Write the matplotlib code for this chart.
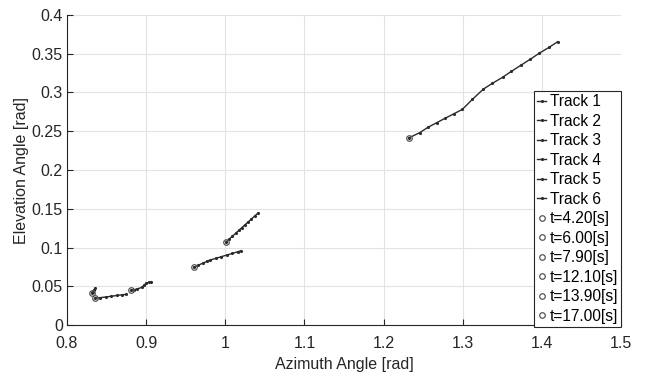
import numpy as np
import matplotlib.pyplot as plt

plt.rcParams['font.family'] = ['Liberation Sans', 'DejaVu Sans']

# track points (azimuth, elevation) [rad]
trk1_az = [0.8312, 0.8325, 0.8340, 0.8354]
trk1_el = [0.0417, 0.0432, 0.0452, 0.0473]

trk2_az = [0.8354, 0.842, 0.849, 0.856, 0.863, 0.869, 0.8747]
trk2_el = [0.0344, 0.0353, 0.0362, 0.0371, 0.0381, 0.0389, 0.0396]

trk3_az = [0.881, 0.885, 0.889, 0.8945, 0.897, 0.900, 0.903, 0.9063]
trk3_el = [0.0447, 0.0456, 0.0466, 0.0486, 0.0510, 0.0538, 0.0550, 0.0559]

trk4_az = [0.960, 0.966, 0.972, 0.977, 0.981, 0.988, 0.995, 1.002, 1.009, 1.016, 1.0203]
trk4_el = [0.0744, 0.0772, 0.0800, 0.0822, 0.0839, 0.0860, 0.0882, 0.0903, 0.0924, 0.0946, 0.0959]

trk5_az = [1.0013, 1.005, 1.009, 1.013, 1.017, 1.021, 1.025, 1.029, 1.033, 1.037, 1.0409]
trk5_el = [0.1075, 0.1109, 0.1146, 0.1183, 0.1220, 0.1257, 0.1294, 0.1331, 0.1368, 0.1405, 0.1441]

trk6_az = [1.2316, 1.2456, 1.2561, 1.2671, 1.2776, 1.2890, 1.2996, 1.3123, 1.3262, 1.3376,
           1.3503, 1.3616, 1.3734, 1.3852, 1.3966, 1.4092, 1.4199]
trk6_el = [0.2413, 0.2481, 0.2551, 0.2610, 0.2667, 0.2726, 0.2783, 0.2912, 0.3045, 0.3119,
           0.3196, 0.3274, 0.3351, 0.3428, 0.3506, 0.3583, 0.3655]

tracks = [(trk1_az, trk1_el), (trk2_az, trk2_el), (trk3_az, trk3_el),
          (trk4_az, trk4_el), (trk5_az, trk5_el), (trk6_az, trk6_el)]
times = [4.20, 6.00, 7.90, 12.10, 13.90, 17.00]

fig = plt.figure(figsize=(6.45, 3.72), dpi=100)
ax = fig.add_axes([0.1039, 0.1263, 0.8589, 0.8334])

lc = '#2b2b2b'
for i, (az, el) in enumerate(tracks):
    ax.plot(az, el, '-', color=lc, lw=1.0, marker='.', ms=2.5, label='Track %d' % (i+1))
for i, (az, el) in enumerate(tracks):
    ax.plot(az[0], el[0], 'o', mfc='none', mec='#555555', ms=4, mew=0.9,
            label='t=%.2f[s]' % times[i])

ax.set_xlim(0.8, 1.5)
ax.set_ylim(0, 0.4)
ax.set_xticks(np.arange(0.8, 1.51, 0.1))
ax.set_xticklabels(['0.8', '0.9', '1', '1.1', '1.2', '1.3', '1.4', '1.5'])
ax.set_yticks(np.arange(0, 0.41, 0.05))
ax.set_yticklabels(['0', '0.05', '0.1', '0.15', '0.2', '0.25', '0.3', '0.35', '0.4'])
ax.grid(True, color='#e3e3e3', lw=0.8)
ax.set_axisbelow(True)
for s in ['top', 'right']:
    ax.spines[s].set_visible(False)
for s in ['left', 'bottom']:
    ax.spines[s].set_color('#262626')
    ax.spines[s].set_linewidth(0.8)
ax.tick_params(direction='in', length=4, width=0.8, colors='#262626', labelsize=11.5)
ax.tick_params(axis='x', pad=8)
ax.tick_params(axis='y', pad=3)
ax.set_xlabel('Azimuth Angle [rad]', fontsize=11.5, color='#262626', labelpad=4)
ax.set_ylabel('Elevation Angle [rad]', fontsize=11.5, color='#262626', labelpad=2)

leg = ax.legend(loc='upper left', bbox_to_anchor=(0.843, 0.755), borderaxespad=0,
                fontsize=11.2, handlelength=0.6, handletextpad=0.2, labelspacing=0.29,
                borderpad=0.2, fancybox=False, framealpha=1, edgecolor='#262626')
leg.get_frame().set_linewidth(0.8)

fig.savefig('out.png', dpi=100)
